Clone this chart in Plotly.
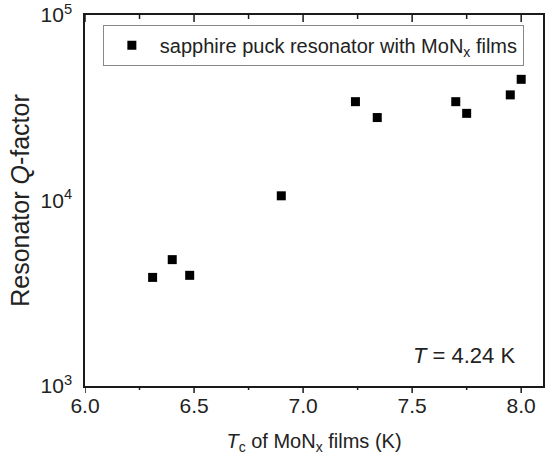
import math
import plotly.graph_objects as go

# Data
tc_values = [6.31, 6.40, 6.48, 6.90, 7.24, 7.34, 7.70, 7.75, 7.95, 8.00]
q_values = [3850, 4800, 3950, 10600, 34100, 28000, 34100, 29500, 37100, 45000]

x_tickvals = [6.0, 6.5, 7.0, 7.5, 8.0]
x_ticktext = ["6.0", "6.5", "7.0", "7.5", "8.0"]
x_minor = [6.25, 6.75, 7.25, 7.75]
y_tickvals = [1e3, 1e4, 1e5]
y_ticktext = ["10<sup>3</sup>", "10<sup>4</sup>", "10<sup>5</sup>"]
y_minor = [m * 10 ** e for e in (3, 4) for m in range(2, 10)]
series_name = "sapphire puck resonator with MoN<sub>x</sub> films"
annotation_text = "<i>T</i> = 4.24 K"

FONT = "Liberation Sans, Arial, sans-serif"
AX = "#1a1a1a"
X_RANGE = [6.0, 8.1]
Y_RANGE = [3, 5]
MAJOR_LEN, MINOR_LEN = 7, 4

fig = go.Figure()
fig.add_trace(go.Scatter(
    x=tc_values, y=q_values, mode="markers", name=series_name,
    marker=dict(symbol="square", size=9, color="black"),
))

# tick marks: outward on bottom/left, inward on top/right
tick_line = dict(color=AX, width=1.5)
shapes = []
for vals, ln in ((x_tickvals, MAJOR_LEN), (x_minor, MINOR_LEN)):
    for v in vals:
        shapes.append(dict(type="line", xref="x", yref="paper", ysizemode="pixel",
                           yanchor=0, x0=v, x1=v, y0=0, y1=-ln, line=tick_line))
        shapes.append(dict(type="line", xref="x", yref="paper", ysizemode="pixel",
                           yanchor=1, x0=v, x1=v, y0=0, y1=-ln, line=tick_line))
for vals, ln in ((y_tickvals, MAJOR_LEN), (y_minor, MINOR_LEN)):
    for v in vals:
        lv = math.log10(v)
        shapes.append(dict(type="line", yref="y", xref="paper", xsizemode="pixel",
                           xanchor=0, y0=lv, y1=lv, x0=0, x1=-ln, line=tick_line))
        shapes.append(dict(type="line", yref="y", xref="paper", xsizemode="pixel",
                           xanchor=1, y0=lv, y1=lv, x0=0, x1=-ln, line=tick_line))

fig.update_layout(
    width=552, height=466, autosize=False,
    margin=dict(l=85, r=9, t=15, b=80),
    paper_bgcolor="white", plot_bgcolor="white",
    font=dict(family=FONT, size=20, color="#222"),
    xaxis=dict(range=X_RANGE, showgrid=False, zeroline=False, automargin=False,
               showline=True, mirror=True, linecolor=AX, linewidth=1.5,
               ticks="", tickmode="array",
               tickvals=x_tickvals, ticktext=x_ticktext, tickfont=dict(size=21),
               title=dict(text="<i>T</i><sub>c</sub> of MoN<sub>x</sub> films (K)",
                          font=dict(size=20), standoff=18)),
    yaxis=dict(type="log", range=Y_RANGE, showgrid=False, zeroline=False, automargin=False,
               showline=True, mirror=True, linecolor=AX, linewidth=1.5,
               ticks="outside", ticklen=MAJOR_LEN, tickcolor="rgba(0,0,0,0)",
               tickmode="array",
               tickvals=y_tickvals, ticktext=y_ticktext, tickfont=dict(size=21),
               title=dict(text="Resonator <i>Q</i>-factor", font=dict(size=25), standoff=4)),
    shapes=shapes,
    legend=dict(x=0.039, y=0.974, xanchor="left", yanchor="top",
                bordercolor="#888", borderwidth=1, bgcolor="white",
                font=dict(size=20), itemwidth=46),
    showlegend=True,
    annotations=[dict(text=annotation_text, xref="paper", yref="paper",
                      x=0.943, y=0.083, xanchor="right", yanchor="middle",
                      showarrow=False, font=dict(size=22))],
)

fig.write_html("out.html", config={"displayModeBar": False},
               post_script="document.body.style.margin='0px';")
